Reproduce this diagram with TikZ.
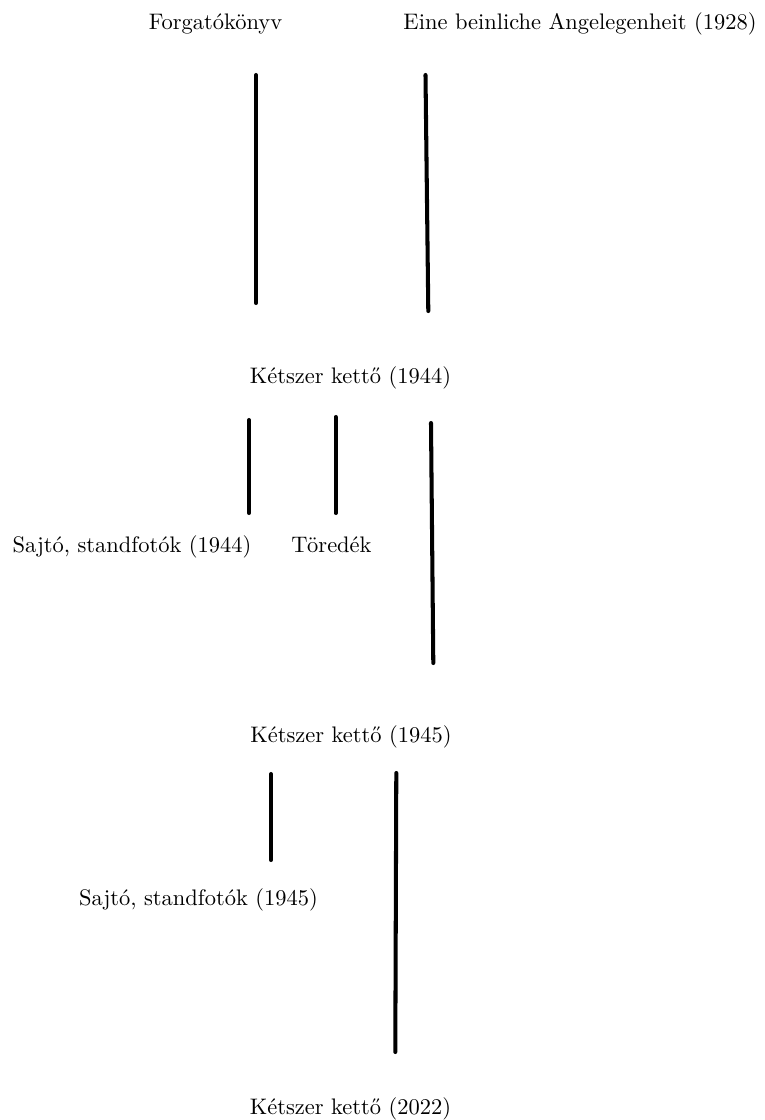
\documentclass[tikz,border=0pt]{standalone}
\begin{document}
\begin{tikzpicture}[x=0.445pt,y=-0.445pt]
      \useasboundingbox (0,0) rectangle (765,1120);
      \draw
        (215.5,29) node[anchor=base] (0){Forgatókönyv}
        (580,29) node[anchor=base] (1){Eine beinliche Angelegenheit (1928)}
        (350.5,383) node[anchor=base] (2){Kétszer kettő (1944)}
        (132,552) node[anchor=base] (3){Sajtó, standfotók (1944)}
        (331.5,552) node[anchor=base] (4){Töredék}
        (351,742) node[anchor=base] (5){Kétszer kettő (1945)}
        (198.5,905) node[anchor=base] (6){Sajtó, standfotók (1945)}
        (350.5,1114) node[anchor=base] (7){Kétszer kettő (2022)};
      \coordinate (0a) at (256,75);
      \coordinate (0b) at (256,303);
      \coordinate (1a) at (425.5,75);
      \coordinate (1b) at (428.3,311);
      \coordinate (3a) at (249,420);
      \coordinate (3b) at (249,513);
      \coordinate (4a) at (335.7,417);
      \coordinate (4b) at (335.7,513);
      \coordinate (5a) at (431,423);
      \coordinate (5b) at (433.3,663);
      \coordinate (6a) at (271,774);
      \coordinate (6b) at (271,860);
      \coordinate (7a) at (396.3,773);
      \coordinate (7b) at (395.3,1052);
      \begin{scope}[-,line width=1.8pt,line cap=round]
        \draw (0a) to (0b);
        \draw (1a) to (1b);
        \draw (3a) to (3b);
        \draw (4a) to (4b);
        \draw (5a) to (5b);
        \draw (6a) to (6b);
        \draw (7a) to (7b);
      \end{scope}
    \end{tikzpicture}
\end{document}
